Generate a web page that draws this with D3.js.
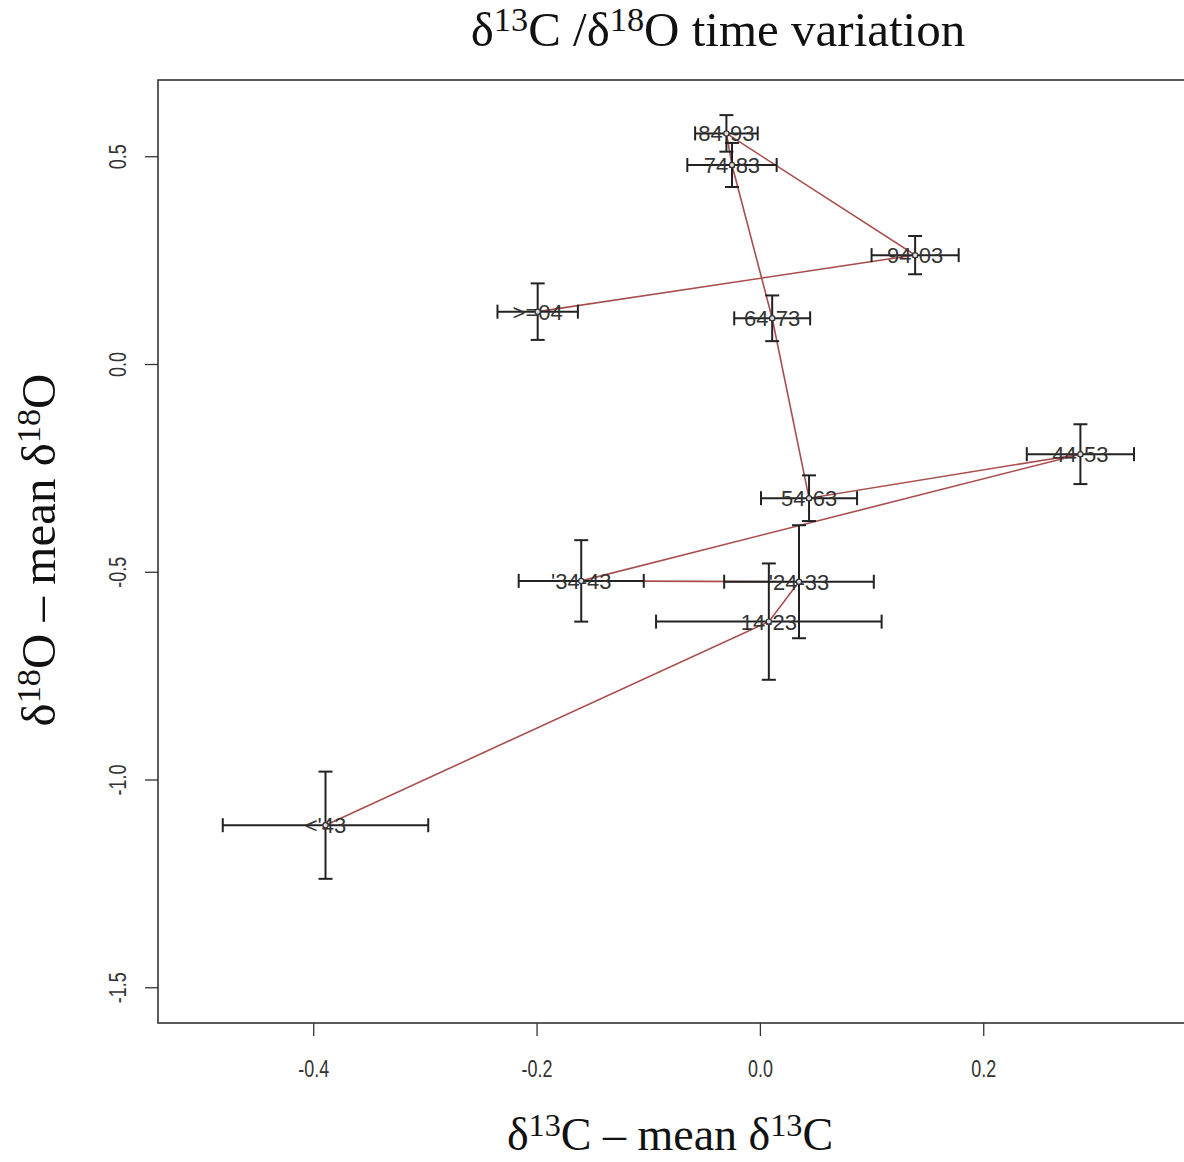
<!DOCTYPE html>
<html><head><meta charset="utf-8">
<script src="https://cdn.jsdelivr.net/npm/d3@7"></script>
<style>body{margin:0;background:#fff}</style>
</head><body>
<svg id="chart" width="1184" height="1162"></svg>
<script>
const labels = ["<'43", "14-23", "'24-33", "'34-43", "44-53", "54-63", "64-73", "74-83", "84-93", "94-03", ">=04"];
const dC13   = [-0.389, 0.008, 0.035, -0.160, 0.287, 0.044, 0.011, -0.025, -0.030, 0.139, -0.199];
const dO18   = [-1.110, -0.620, -0.524, -0.522, -0.217, -0.323, 0.110, 0.479, 0.555, 0.262, 0.126];
const errC13 = [0.092, 0.101, 0.067, 0.056, 0.048, 0.043, 0.034, 0.040, 0.028, 0.039, 0.036];
const errO18 = [0.129, 0.140, 0.136, 0.098, 0.072, 0.055, 0.055, 0.053, 0.044, 0.046, 0.068];
const xTicks = [-0.4, -0.2, 0.0, 0.2];
const yTicks = [0.5, 0.0, -0.5, -1.0, -1.5];
const fmt = v => d3.format(".1f")(v).replace("\u2212", "-");

const data = labels.map((l, i) => ({label: l, x: dC13[i], y: dO18[i], ex: errC13[i], ey: errO18[i]}));

const svg = d3.select("#chart");
const L = 158, T = 80, B = 1023;
const x = d3.scaleLinear().domain([-0.539, 0.40]).range([L, L + 0.939 * 1116.7]);
const y = d3.scaleLinear().domain([0.6835, -1.586]).range([T, B]);

// box
svg.append("rect").attr("x", L).attr("y", T).attr("width", x(0.40) - L).attr("height", B - T)
  .attr("fill", "none").attr("stroke", "#333").attr("stroke-width", 1.6);

// axes
const xAxis = svg.append("g").attr("transform", `translate(0,${B})`)
  .call(d3.axisBottom(x).tickValues(xTicks).tickFormat(fmt).tickSize(13));
xAxis.select(".domain").remove();
xAxis.selectAll("line").attr("stroke", "#333").attr("stroke-width", 1.3);
xAxis.selectAll("text").remove();
xAxis.selectAll(".tick").append("text")
  .attr("transform", "translate(0,46) scale(0.78,1)")
  .attr("dy", "0.35em").attr("text-anchor", "middle")
  .style("font-family", "'Liberation Sans', Arial, sans-serif")
  .style("font-size", "23px").attr("fill", "#333")
  .text(d => fmt(d));

const yAxis = svg.append("g").attr("transform", `translate(${L},0)`)
  .call(d3.axisLeft(y).tickValues(yTicks).tickFormat(fmt).tickSize(13));
yAxis.select(".domain").remove();
yAxis.selectAll("line").attr("stroke", "#333").attr("stroke-width", 1.3);
yAxis.selectAll("text").remove();
yAxis.selectAll(".tick").append("text")
  .attr("transform", "translate(-40,0) rotate(-90) scale(0.78,1)")
  .attr("text-anchor", "middle").attr("dy", "0.35em")
  .style("font-family", "'Liberation Sans', Arial, sans-serif")
  .style("font-size", "23px").attr("fill", "#333")
  .text(d => fmt(d));

// connecting line
svg.append("path").datum(data)
  .attr("d", d3.line().x(d => x(d.x)).y(d => y(d.y)))
  .attr("fill", "none").attr("stroke", "#a84e4e").attr("stroke-width", 1.6);

// error bars
const cap = 7;
const eb = svg.append("g").attr("stroke", "#222").attr("stroke-width", 2).attr("fill", "none");
data.forEach(d => {
  const cx = x(d.x), cy = y(d.y);
  const x1 = x(d.x - d.ex), x2 = x(d.x + d.ex);
  const y1 = y(d.y + d.ey), y2 = y(d.y - d.ey);
  eb.append("line").attr("x1", x1).attr("x2", x2).attr("y1", cy).attr("y2", cy);
  eb.append("line").attr("x1", x1).attr("x2", x1).attr("y1", cy - cap).attr("y2", cy + cap);
  eb.append("line").attr("x1", x2).attr("x2", x2).attr("y1", cy - cap).attr("y2", cy + cap);
  eb.append("line").attr("x1", cx).attr("x2", cx).attr("y1", y1).attr("y2", y2);
  eb.append("line").attr("x1", cx - cap).attr("x2", cx + cap).attr("y1", y1).attr("y2", y1);
  eb.append("line").attr("x1", cx - cap).attr("x2", cx + cap).attr("y1", y2).attr("y2", y2);
});

// labels
svg.append("g").selectAll("text").data(data).join("text")
  .attr("x", d => x(d.x)).attr("y", d => y(d.y)).attr("dy", "0.36em")
  .attr("text-anchor", "middle")
  .style("font-family", "'Liberation Sans', Arial, sans-serif")
  .style("font-size", "22px").attr("fill", "#333")
  .text(d => d.label);

// points
svg.append("g").selectAll("circle").data(data).join("circle")
  .attr("cx", d => x(d.x)).attr("cy", d => y(d.y)).attr("r", 2.6)
  .attr("fill", "#ddd").attr("stroke", "#333").attr("stroke-width", 1.2);

// titles with superscripts
function supText(g, parts, size) {
  const t = g.append("text")
    .style("font-family", "'Liberation Serif', 'Times New Roman', serif")
    .style("font-size", size + "px").attr("fill", "#111");
  let raised = false;
  const up = size * 0.3;
  parts.forEach(p => {
    const s = t.append("tspan").text(p.t);
    if (p.sup) {
      s.style("font-size", (size * 0.7) + "px").attr("dy", raised ? 0 : -up);
      raised = true;
    } else {
      s.style("font-size", size + "px");
      if (raised) { s.attr("dy", up); raised = false; }
    }
  });
  return t;
}
supText(svg, [{t: "δ"}, {t: "13", sup: true}, {t: "C /δ"}, {t: "18", sup: true}, {t: "O time variation"}], 49)
  .attr("x", 718).attr("y", 46).attr("text-anchor", "middle");
supText(svg, [{t: "δ"}, {t: "13", sup: true}, {t: "C – mean δ"}, {t: "13", sup: true}, {t: "C"}], 46)
  .attr("x", 670).attr("y", 1150).attr("text-anchor", "middle");
supText(svg, [{t: "δ"}, {t: "18", sup: true}, {t: "O – mean δ"}, {t: "18", sup: true}, {t: "O"}], 49)
  .attr("text-anchor", "middle").attr("transform", "translate(55,550) rotate(-90)");
</script>
</body></html>
